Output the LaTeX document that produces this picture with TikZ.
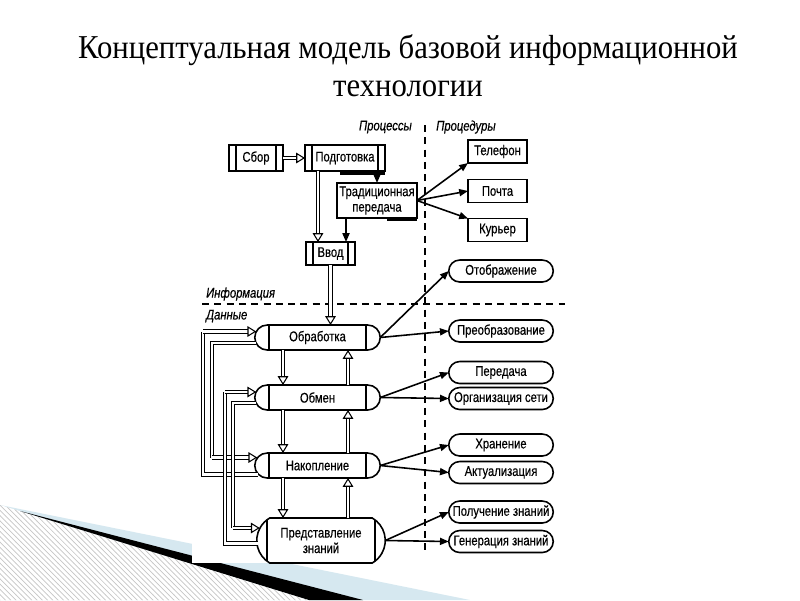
\documentclass[tikz,border=0pt]{standalone}
\usepackage{fontspec}
\setmainfont{Liberation Serif}
\newfontfamily\titlefont[FakeStretch=0.92]{Liberation Serif}
\newfontfamily\diagfont[FakeStretch=0.8,FakeBold=0.4]{Liberation Sans}
\usetikzlibrary{arrows.meta,shapes.misc,patterns,calc}
\definecolor{wedgeblue}{RGB}{214,232,240}
\begin{document}
\begin{tikzpicture}[
  proc/.style={rectangle,draw=black,line width=0.9pt,align=center,
    outer sep=0,inner sep=1pt,
    minimum width=1.6cm,minimum height=0.52cm,
    path picture={
      \draw ([xshift=0.14cm]path picture bounding box.north west)
        -- ([xshift=0.14cm]path picture bounding box.south west);
      \draw ([xshift=-0.14cm]path picture bounding box.north east)
        -- ([xshift=-0.14cm]path picture bounding box.south east);}},
  tank/.style={rounded rectangle,draw=black,line width=0.9pt,align=center,
    outer sep=0,inner sep=1pt,
    minimum width=2.58cm,minimum height=0.5cm,
    path picture={
      \draw ([xshift=0.28cm]path picture bounding box.north west)
        -- ([xshift=0.28cm]path picture bounding box.south west);
      \draw ([xshift=-0.28cm]path picture bounding box.north east)
        -- ([xshift=-0.28cm]path picture bounding box.south east);}},
  proced/.style={rectangle,draw=black,line width=0.9pt,align=center,
    outer sep=0,inner sep=1pt,
    minimum width=1.18cm,minimum height=0.46cm},
  result/.style={rounded rectangle,draw=black,line width=0.9pt,align=center,
    outer sep=0,inner sep=1pt,
    minimum width=2.16cm,minimum height=0.44cm},
  tag/.style={font=\diagfont\itshape\fontsize{8}{9}\selectfont},
  pipe/.style={double,double distance=1.5pt,semithick},
  hollow/.style={pipe,-{Triangle[open,length=5pt,width=6pt]}},
  flow/.style={line width=0.9pt,-{Triangle[length=5pt,width=4pt]}},
  border/.style={dash pattern=on 4pt off 3pt,line width=1pt}]
  \fill[white] (0,0) rectangle (16,-12);
  \useasboundingbox (0,0) rectangle (16,-12);
  \fill[wedgeblue] (0,-10.1) -- (9.4,-12) -- (0,-12) -- cycle;
  \fill[white] (0,-10.1) -- (6.18,-12) -- (0,-12) -- cycle;
  \fill[pattern=north west lines,pattern color=gray!45] (0,-10.1) -- (6.18,-12) -- (0,-12) -- cycle;
  \fill[black] (0.4,-10.22) -- (7.26,-12) -- (6.18,-12) -- cycle;
  \fill[white] (3.84,-2.16) rectangle (11.56,-11.26);
  \node[align=center,font=\titlefont\fontsize{19}{21.5}\selectfont] (title) at (8.16,-1.32)
    {Концептуальная модель базовой информационной\\технологии};
  \begin{scope}[font=\diagfont\fontsize{8}{8.8}\selectfont]
  \draw[border] (8.5,-2.5) -- (8.5,-11.1);
  \draw[border] (4.04,-6.08) -- (11.3,-6.08);
  \node[tag,anchor=east] (proc) at (8.36,-2.54) {Процессы};
  \node[tag,anchor=west] (procd) at (8.6,-2.54) {Процедуры};
  \node[tag,anchor=west] (info) at (4.0,-5.88) {Информация};
  \node[tag,anchor=west] (data) at (4.0,-6.32) {Данные};
  \node[proc,minimum width=1.08cm] (sbor) at (5.12,-3.16) {Сбор};
  \node[proc] (podg) at (6.9,-3.16) {Подготовка};
  \node[proced,minimum width=1.6cm,minimum height=0.7cm] (trad) at (7.54,-4.01)
    {Традиционная\\передача};
  \node[proc,minimum width=0.98cm,minimum height=0.46cm] (vvod) at (6.61,-5.07) {Ввод};
  \node[proced] (tel) at (9.95,-3.03) {Телефон};
  \node[proced] (pochta) at (9.95,-3.82) {Почта};
  \node[proced] (kur) at (9.95,-4.6) {Курьер};
  \node[tank] (obr) at (6.35,-6.75) {Обработка};
  \node[tank] (obm) at (6.35,-7.95) {Обмен};
  \node[tank] (nak) at (6.35,-9.31) {Накопление};
  \node[tank,minimum width=2.64cm,minimum height=0.9cm,
    rounded rectangle arc length=120] (pred) at (6.42,-10.81)
    {Представление\\знаний};
  \node[result] (otobr) at (10.02,-5.42) {Отображение};
  \node[result] (preobr) at (10.02,-6.62) {Преобразование};
  \node[result] (pered) at (10.02,-7.45) {Передача};
  \node[result] (org) at (10.02,-7.97) {Организация сети};
  \node[result] (hran) at (10.02,-8.9) {Хранение};
  \node[result] (akt) at (10.02,-9.45) {Актуализация};
  \node[result] (pol) at (10.02,-10.24) {Получение знаний};
  \node[result] (gen) at (10.02,-10.83) {Генерация знаний};
  \draw[line width=1.6pt] ([xshift=-0.9cm,yshift=-0.05cm]podg.south east)
    -- ([yshift=-0.05cm]podg.south east);
  \draw[line width=1.6pt] ([xshift=-0.6cm,yshift=-0.04cm]trad.south east)
    -- ([yshift=-0.04cm]trad.south east);
  \coordinate (c1) at (4.06,0);
  \coordinate (c2) at (4.24,0);
  \coordinate (c3) at (4.5,0);
  \coordinate (c4) at (4.66,0);
  \coordinate (obrin) at ($(obr.west)+(0.03,0.12)$);
  \coordinate (obrout) at ($(obr.west)+(0.03,-0.11)$);
  \coordinate (obmin) at ($(obm.west)+(0.03,0.11)$);
  \coordinate (obmout) at ($(obm.west)+(0.03,-0.11)$);
  \coordinate (nakin) at ($(nak.west)+(0.05,0.16)$);
  \coordinate (nakout) at ($(nak.west)+(0.06,-0.18)$);
  \coordinate (predin) at ($(pred.west)+(0.06,0.25)$);
  \coordinate (predout) at ($(pred.west)+(0.02,-0.06)$);
  \draw[hollow] (sbor) -- (podg);
  \draw[hollow] ([xshift=-0.54cm]podg.south) -- ([xshift=-0.54cm]podg.south |- vvod.north);
  \draw[flow] ([xshift=0.64cm]podg.south) -- ([xshift=0.64cm]podg.south |- trad.north);
  \draw[flow] ([xshift=-0.62cm]trad.south) -- ([xshift=-0.62cm]trad.south |- vvod.north);
  \draw[flow] (trad.east) -- (tel.south west);
  \draw[flow] (trad.east) -- (pochta.west);
  \draw[flow] (trad.east) -- (kur.north west);
  \draw[hollow] (vvod.south) -- (vvod.south |- obr.north);
  \draw[hollow] ([xshift=-0.69cm]obr.south) -- ([xshift=-0.69cm]obm.north);
  \draw[hollow] ([xshift=-0.69cm]obm.south) -- ([xshift=-0.69cm]nak.north);
  \draw[hollow] ([xshift=-0.69cm]nak.south) -- ([xshift=-0.69cm]nak.south |- pred.north);
  \draw[hollow] ([xshift=0.61cm]obm.north) -- ([xshift=0.61cm]obr.south);
  \draw[hollow] ([xshift=0.61cm]nak.north) -- ([xshift=0.61cm]obm.south);
  \draw[hollow] ([xshift=0.61cm]nak.south |- pred.north) -- ([xshift=0.61cm]nak.south);
  \draw[pipe] (nakout) -- (nakout -| c1) -- (obrin -| c1);
  \draw[hollow] (obrin -| c1) -- (obrin);
  \draw[pipe] (obrout) -- (obrout -| c2) -- (nakin -| c2);
  \draw[hollow] (nakin -| c2) -- (nakin);
  \draw[pipe] (predout) -- (predout -| c3) -- (obmin -| c3);
  \draw[hollow] (obmin -| c3) -- (obmin);
  \draw[pipe] (obmout) -- (obmout -| c4) -- (predin -| c4);
  \draw[hollow] (predin -| c4) -- (predin);
  \draw[flow] (obr.east) -- (otobr.west);
  \draw[flow] (obr.east) -- (preobr.west);
  \draw[flow] (obm.east) -- (pered.west);
  \draw[flow] (obm.east) -- (org.west);
  \draw[flow] (nak.east) -- (hran.west);
  \draw[flow] (nak.east) -- (akt.west);
  \draw[flow] (pred.east) -- (pol.west);
  \draw[flow] (pred.east) -- (gen.west);
  \end{scope}
\end{tikzpicture}
\end{document}
